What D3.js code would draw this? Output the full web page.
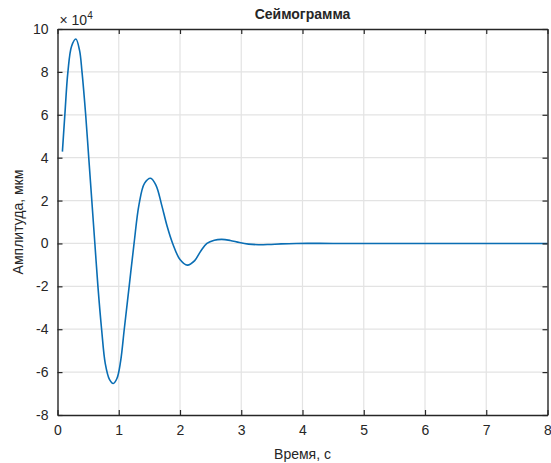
<!DOCTYPE html>
<html>
<head>
<meta charset="utf-8">
<script src="https://cdn.jsdelivr.net/npm/d3@7"></script>
<style>
  body { margin: 0; background: #fff; }
  text { font-family: "Liberation Sans", Arial, sans-serif; fill: #262626; }
</style>
</head>
<body>
<div id="chart"></div>
<script>
// seismogram samples (time in s, amplitude in µm)
var timeS = [0.08, 0.12, 0.17, 0.23, 0.30, 0.36, 0.40, 0.46, 0.51, 0.56, 0.61, 0.66, 0.72, 0.78, 0.85,
             0.91, 0.97, 1.03, 1.09, 1.17, 1.25, 1.33, 1.42, 1.52, 1.61, 1.70, 1.79, 1.88, 2.00, 2.12,
             2.24, 2.34, 2.44, 2.56, 2.68, 2.82, 2.97, 3.12, 3.28, 3.45, 3.65, 3.90, 4.50, 5.50, 6.50, 8.00];
var amplitude = [42800, 60000, 80000, 92000, 95300, 90000, 80000, 60000, 40000, 20000, 0, -20000, -40000, -56000, -63500,
                 -65300, -63000, -55000, -40000, -20000, 0, 18000, 28000, 30400, 27000, 18000, 8000, 0, -7500, -10100,
                 -8000, -3500, 0, 1500, 1900, 1400, 400, -300, -600, -500, -200, 0, 0, 0, 0, 0];

var xTicks = [0, 1, 2, 3, 4, 5, 6, 7, 8];
var yTicks = [-80000, -60000, -40000, -20000, 0, 20000, 40000, 60000, 80000, 100000];

var titleText = "Сеймограмма";
var xLabel = "Время, с";
var yLabel = "Амплитуда, мкм";

var width = 551, height = 463;
var mLeft = 57.5, mRight = 547.5, mTop = 29, mBottom = 415;

var svg = d3.select("#chart").append("svg")
    .attr("width", width)
    .attr("height", height);

var x = d3.scaleLinear().domain([0, 8]).range([mLeft, mRight]);
var y = d3.scaleLinear().domain([-80000, 100000]).range([mBottom, mTop]);

// grid
svg.append("g").selectAll("line").data(xTicks.slice(1, -1)).join("line")
    .attr("x1", d => x(d)).attr("x2", d => x(d))
    .attr("y1", mTop).attr("y2", mBottom)
    .attr("stroke", "#e3e3e3").attr("stroke-width", 1.2);
svg.append("g").selectAll("line").data(yTicks.slice(1, -1)).join("line")
    .attr("y1", d => y(d)).attr("y2", d => y(d))
    .attr("x1", mLeft).attr("x2", mRight)
    .attr("stroke", "#e3e3e3").attr("stroke-width", 1.2);

// data line
var data = timeS.map((t, i) => [t, amplitude[i]]);
var line = d3.line()
    .x(d => x(d[0]))
    .y(d => y(d[1]))
    .curve(d3.curveCatmullRom.alpha(0.5));
svg.append("path")
    .datum(data)
    .attr("d", line)
    .attr("fill", "none")
    .attr("stroke", "#0a6eb4")
    .attr("stroke-width", 1.6);

// axes (box with ticks inward)
var fmtY = d => d / 10000;
var xAxis = d3.axisBottom(x).tickValues(xTicks).tickSizeInner(-5).tickSizeOuter(0).tickPadding(10);
var yAxis = d3.axisLeft(y).tickValues(yTicks).tickFormat(fmtY).tickSizeInner(-5).tickSizeOuter(0).tickPadding(9);

var gx = svg.append("g").attr("transform", "translate(0," + mBottom + ")").call(xAxis);
var gy = svg.append("g").attr("transform", "translate(" + mLeft + ",0)").call(yAxis);
var gxTop = svg.append("g").attr("transform", "translate(0," + mTop + ")")
    .call(d3.axisTop(x).tickValues(xTicks).tickSizeInner(-5).tickSizeOuter(0).tickFormat(""));
var gyRight = svg.append("g").attr("transform", "translate(" + mRight + ",0)")
    .call(d3.axisRight(y).tickValues(yTicks).tickSizeInner(-5).tickSizeOuter(0).tickFormat(""));

[gx, gy, gxTop, gyRight].forEach(function(g) {
    g.select(".domain").attr("stroke", "#262626").attr("stroke-width", 1.4);
    g.selectAll(".tick line").attr("stroke", "#262626").attr("stroke-width", 1.2);
    g.selectAll("text")
        .attr("fill", "#262626")
        .style("font-size", "14px")
        .style("font-family", "'Liberation Sans', Arial, sans-serif");
});

// exponent label
var expo = svg.append("text")
    .attr("x", mLeft + 2)
    .attr("y", 25)
    .style("font-size", "14px");
expo.append("tspan").text("\u00d7 10");
expo.append("tspan").attr("dy", -6).style("font-size", "10px").text("4");

// title and labels
svg.append("text")
    .attr("x", (mLeft + mRight) / 2)
    .attr("y", 19)
    .attr("text-anchor", "middle")
    .style("font-size", "14px")
    .style("font-weight", "bold")
    .text(titleText);

svg.append("text")
    .attr("x", (mLeft + mRight) / 2)
    .attr("y", 459)
    .attr("text-anchor", "middle")
    .style("font-size", "14px")
    .text(xLabel);

svg.append("text")
    .attr("transform", "translate(23," + ((mTop + mBottom) / 2) + ") rotate(-90)")
    .attr("text-anchor", "middle")
    .style("font-size", "14px")
    .text(yLabel);
</script>
</body>
</html>
